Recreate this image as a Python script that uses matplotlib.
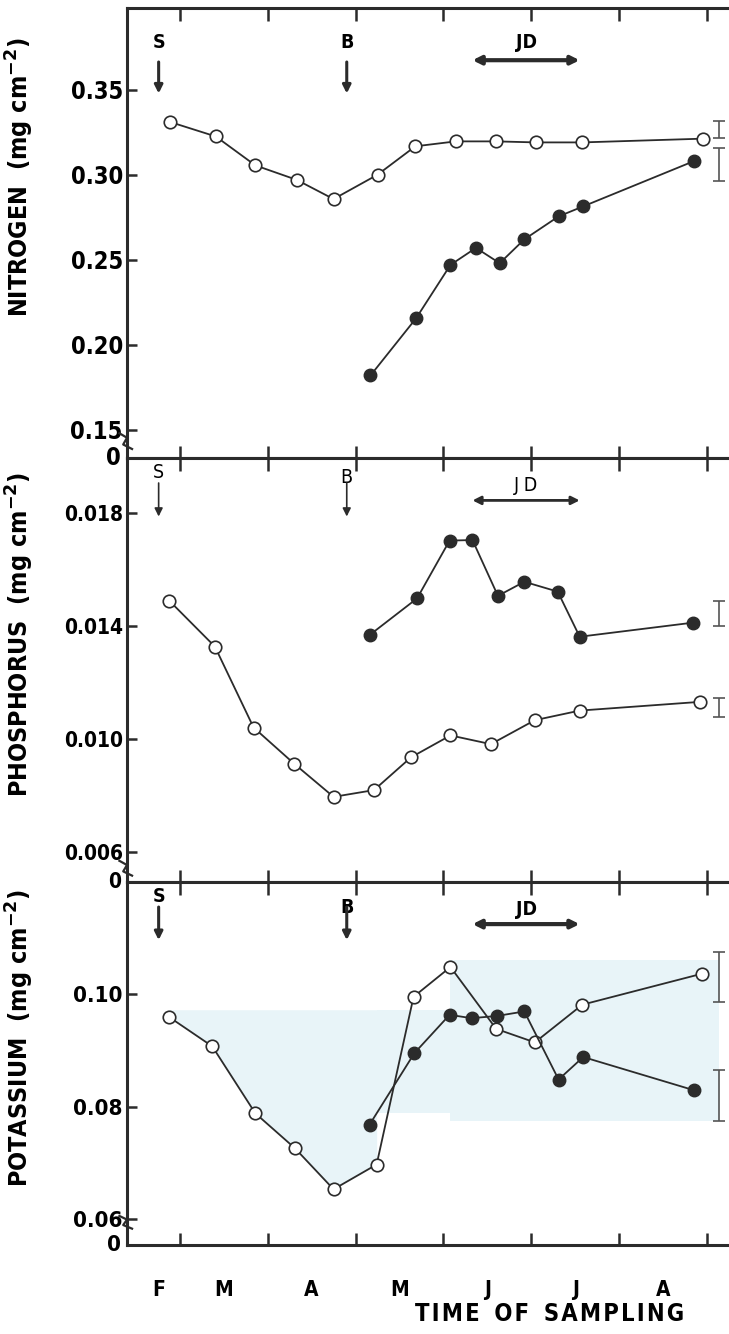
import matplotlib
matplotlib.use('Agg')
import matplotlib.pyplot as plt
from matplotlib.transforms import blended_transform_factory

# month index: 0 = 1 Feb, 1 = 1 Mar, ... 7 = 1 Sep
MONTHS = ['F', 'M', 'A', 'M', 'J', 'J', 'A']
MONTH_POS = [0.76, 1.5, 2.5, 3.5, 4.5, 5.5, 6.5]

# nitrogen (mg cm-2)
n_open_x = [0.89, 1.41, 1.86, 2.33, 2.75, 3.25, 3.68, 4.14, 4.60, 5.05, 5.58, 6.95]
n_open_y = [0.331, 0.3225, 0.3055, 0.297, 0.2857, 0.300, 0.3167, 0.3196, 0.3196, 0.319, 0.319, 0.3212]
n_fill_x = [3.17, 3.69, 4.08, 4.37, 4.64, 4.92, 5.31, 5.59, 6.85]
n_fill_y = [0.182, 0.2157, 0.247, 0.257, 0.248, 0.262, 0.2755, 0.2814, 0.308]
n_err_y = [0.3265, 0.306]
n_err = [0.005, 0.0098]

# phosphorus (mg cm-2)
p_open_x = [0.88, 1.40, 1.84, 2.30, 2.75, 3.21, 3.63, 4.08, 4.54, 5.04, 5.55, 6.92]
p_open_y = [0.0149, 0.01327, 0.0104, 0.00912, 0.00794, 0.00818, 0.00934, 0.01012, 0.00981, 0.01066, 0.0110, 0.01131]
p_fill_x = [3.16, 3.70, 4.07, 4.33, 4.62, 4.92, 5.30, 5.55, 6.84]
p_fill_y = [0.01368, 0.01498, 0.01703, 0.01705, 0.01507, 0.01557, 0.01522, 0.01362, 0.01412]
p_err_y = [0.01443, 0.01111]
p_err = [0.00044, 0.00033]

# potassium (mg cm-2)
k_open_x = [0.88, 1.37, 1.86, 2.31, 2.75, 3.24, 3.66, 4.08, 4.60, 5.04, 5.58, 6.94]
k_open_y = [0.0959, 0.0907, 0.0788, 0.0726, 0.0653, 0.0697, 0.0995, 0.1048, 0.0938, 0.0914, 0.0981, 0.1036]
k_fill_x = [3.16, 3.67, 4.07, 4.32, 4.61, 4.92, 5.31, 5.59, 6.85]
k_fill_y = [0.0768, 0.0895, 0.0963, 0.0957, 0.0961, 0.0969, 0.0848, 0.0888, 0.0829]
k_err_y = [0.1031, 0.0819]
k_err = [0.00445, 0.00453]

ERR_X = 7.14
S_X, B_X = 0.76, 2.90
JD_X0, JD_X1 = 4.33, 5.55

FONT = dict(family=['DejaVu Sans'], fontstretch='condensed')
INK = '#2b2b2b'

W, H = 729, 1334
fig = plt.figure(figsize=(W / 100, H / 100), dpi=100)
fig.patch.set_facecolor('white')

XL = (0.40, 7.60)
left = 127 / W
width = (XL[1] - XL[0]) * 87.9 / W


def make_ax(top_px, bot_px):
    return fig.add_axes([left, 1 - bot_px / H, width, (bot_px - top_px) / H])


def style(ax, ylim, yticks, yfmt, tsize, ylabel, ylab_y):
    ax.set_xlim(*XL)
    ax.set_ylim(*ylim)
    ax.spines['right'].set_visible(False)
    for s in ('left', 'top', 'bottom'):
        ax.spines[s].set_linewidth(2.2)
        ax.spines[s].set_color(INK)
    ax.set_xticks(range(1, 8))
    ax.set_xticklabels([])
    ax.tick_params(axis='x', direction='in', length=9, width=1.8, top=True,
                   bottom=True, color=INK)
    ax.set_yticks(yticks)
    ax.set_yticklabels([yfmt.format(v) for v in yticks], fontweight='bold',
                       fontsize=tsize, **FONT)
    ax.tick_params(axis='y', direction='in', length=7, width=1.8, pad=3,
                   color=INK)
    ax.text(-0.01, 0, '0', transform=ax.transAxes, ha='right', va='center',
            fontweight='bold', fontsize=tsize, **FONT)
    ax.set_ylabel(ylabel, fontweight='bold', fontsize=18, **FONT)
    ax.yaxis.set_label_coords(-0.144, ylab_y)


def series(ax, ox, oy, fx, fy, ey, ee):
    ax.plot(ox, oy, '-o', color=INK, lw=1.3, ms=9, mfc='white', mec=INK,
            mew=1.2, zorder=3)
    ax.plot(fx, fy, '-o', color=INK, lw=1.3, ms=9, mfc=INK, mec=INK,
            mew=1.0, zorder=3)
    ax.errorbar([ERR_X] * len(ey), ey, yerr=ee, fmt='none', ecolor='#555555',
                elinewidth=1.2, capsize=4, capthick=1.2)


def markers(ax, s_y, b_y, jd_y, bold):
    tr = blended_transform_factory(ax.transData, ax.transAxes)
    w = 'bold' if bold else 'light'
    lw = 2.2 if bold else 1.2
    for x, lab, (ly, a0, a1) in ((S_X, 'S', s_y), (B_X, 'B', b_y)):
        ax.text(x, ly, lab, transform=tr, ha='center', va='center',
                fontweight=w, fontsize=14, **FONT)
        ax.annotate('', xy=(x, a1), xytext=(x, a0), xycoords=tr,
                    textcoords=tr,
                    arrowprops=dict(arrowstyle='-|>', lw=lw, color=INK,
                                    mutation_scale=12, shrinkA=0, shrinkB=0))
    ly, ay = jd_y
    ax.text((JD_X0 + JD_X1) / 2, ly, 'J D' if not bold else 'JD',
            transform=tr, ha='center', va='center', fontweight=w,
            fontsize=14, **FONT)
    ax.annotate('', xy=(JD_X1, ay), xytext=(JD_X0, ay), xycoords=tr,
                textcoords=tr,
                arrowprops=dict(arrowstyle='<|-|>', lw=lw + 0.8, color=INK,
                                mutation_scale=12, shrinkA=0, shrinkB=0))


def break_mark(ax, yfrac):
    kw = dict(transform=ax.transAxes, clip_on=False, color=INK, lw=1.6)
    ax.plot([-0.012, 0.0, -0.006, 0.008], [yfrac + 0.02, yfrac + 0.01,
                                           yfrac - 0.005, yfrac - 0.015], **kw)


# ---- nitrogen
axN = make_ax(8, 458)
style(axN, (0.1335, 0.398), [0.15, 0.20, 0.25, 0.30, 0.35], '{:.2f}', 17,
      'NITROGEN  (mg cm$^{\\mathbf{-2}}$)', 0.624)
series(axN, n_open_x, n_open_y, n_fill_x, n_fill_y, n_err_y, n_err)
markers(axN, (0.924, 0.88, 0.81), (0.924, 0.88, 0.81), (0.924, 0.884), True)
break_mark(axN, 0.035)

# ---- phosphorus
axP = make_ax(458, 882)
style(axP, (0.00492, 0.01996), [0.006, 0.010, 0.014, 0.018], '{:.3f}', 15,
      'PHOSPHORUS  (mg cm$^{\\mathbf{-2}}$)', 0.583)
series(axP, p_open_x, p_open_y, p_fill_x, p_fill_y, p_err_y, p_err)
markers(axP, (0.965, 0.941, 0.862), (0.953, 0.941, 0.862), (0.936, 0.90), False)
break_mark(axP, 0.03)

# ---- potassium
axK = make_ax(882, 1245)
style(axK, (0.0554, 0.1199), [0.06, 0.08, 0.10], '{:.2f}', 16,
      'POTASSIUM  (mg cm$^{\\mathbf{-2}}$)', 0.570)
# faint highlighter wash on the scanned page
wash = '#e8f4f8'
axK.fill_between(k_open_x[:6], k_open_y[:6], 0.0972, color=wash, lw=0, zorder=0)
axK.fill_between([3.24, 4.07], 0.0788, 0.0972, color=wash, lw=0, zorder=0)
axK.fill_between([4.07, 7.14], 0.0774, 0.1061, color=wash, lw=0, zorder=0)
series(axK, k_open_x, k_open_y, k_fill_x, k_fill_y, k_err_y, k_err)
markers(axK, (0.959, 0.931, 0.84), (0.931, 0.931, 0.84), (0.923, 0.884), True)
break_mark(axK, 0.06)

trK = blended_transform_factory(axK.transData, axK.transAxes)
for x, m in zip(MONTH_POS, MONTHS):
    axK.text(x, -0.124, m, transform=trK, ha='center', va='center',
             fontweight='bold', fontsize=15, **FONT)
title = '\u200a'.join('TIME') + '  ' + '\u200a'.join('OF') + '  ' + '\u200a'.join('SAMPLING')
fig.text(550 / W, 1 - 1314 / H, title,
         ha='center', va='center', fontweight='bold', fontsize=17, **FONT)

fig.savefig('out.png', dpi=100, facecolor='white')
